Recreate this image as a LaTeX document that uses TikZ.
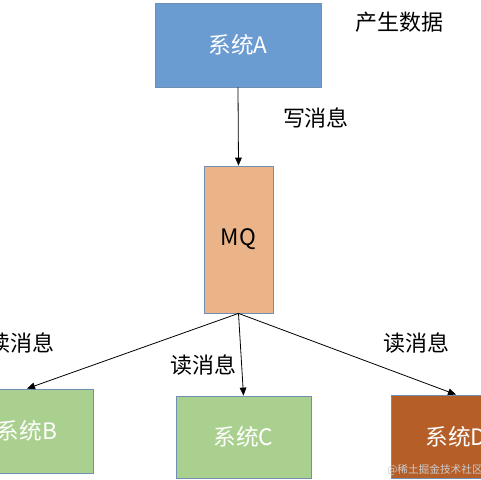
\documentclass[tikz,border=0pt]{standalone}
\usepackage{fontspec}
\setmainfont{Noto Sans CJK SC}
\usetikzlibrary{arrows.meta}
\definecolor{cA}{HTML}{6A9BD1}
\definecolor{cMQ}{HTML}{EAB388}
\definecolor{cG}{HTML}{A9D08E}
\definecolor{cD}{HTML}{B55E28}
\definecolor{cBorder}{HTML}{6F8FB5}
\tikzset{
  sysbox/.style={draw=cBorder, line width=0.6pt, inner sep=0pt, font=\fontsize{17}{20}\selectfont, text=white},
  lbl/.style={font=\fontsize{16.5}{20}\selectfont, text=black, inner sep=0pt},
  arr/.style={-{Triangle[length=6pt,width=5pt]}, line width=0.6pt, black}
}
\begin{document}
\begin{tikzpicture}[x=0.75pt,y=-0.75pt]
\useasboundingbox (0,0) rectangle (480,480);
\fill[white] (0,0) rectangle (480,480);
\node[sysbox, fill=cA, minimum width=166*0.75pt, minimum height=84*0.75pt] (a) at (238,45) {系统A};
\node[sysbox, fill=cMQ, text=black, minimum width=69*0.75pt, minimum height=147*0.75pt] (mq) at (238.5,239.5) {MQ};
\node[sysbox, fill=cG, minimum width=132*0.75pt, minimum height=84*0.75pt] (b) at (27,431) {系统B};
\node[sysbox, fill=cG, minimum width=135*0.75pt, minimum height=82*0.75pt] (c) at (243.5,437) {系统C};
\node[sysbox, fill=cD, minimum width=130*0.75pt, minimum height=83*0.75pt] (d) at (456,436.5) {系统D};
\node[lbl] (gen) at (400,22) {产生数据};
\node[lbl] (wr) at (316,118) {写消息};
\node[lbl] (r1) at (21,343) {读消息};
\node[lbl] (r2) at (204,365) {读消息};
\node[lbl] (r3) at (417,343) {读消息};
\draw[arr] (a.south) -- (mq.north);
\draw[arr] (mq.south) -- (b.north);
\draw[arr] (mq.south) -- (c.north);
\draw[arr] (mq.south) -- (d.north);
\node[font=\fontsize{8}{10}\selectfont, text=white!80!black, inner sep=0pt, anchor=west] (wm) at (387,470) {@稀土掘金技术社区};
\end{tikzpicture}
\end{document}
